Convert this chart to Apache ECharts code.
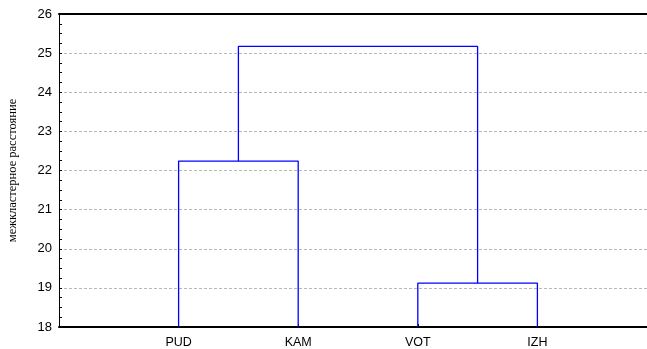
<!DOCTYPE html>
<html>
<head>
<meta charset="utf-8">
<script src="https://cdn.jsdelivr.net/npm/echarts@6/dist/echarts.min.js"></script>
<style>
  html, body { margin: 0; padding: 0; background: #fff; }
  #chart { width: 647px; height: 349px; }
</style>
</head>
<body>
<div id="chart"></div>
<script>
// Leaf objects along the horizontal axis (positions 1..4)
const leaves = ['PUD', 'KAM', 'VOT', 'IZH'];
// Agglomeration steps: which clusters join and at what distance
// Cluster ids: 0..3 are leaves, 4.. are merged clusters in order
const mergePairs = [[0, 1], [2, 3], [4, 5]];
const mergeHeights = [22.24, 19.12, 25.17];
// Vertical axis range and tick step
const yMin = 18, yMax = 26, yStep = 1;
const yTitle = 'межкластерное расстояние';

// Build the U-shaped links of the tree from the merge table
const nodeX = leaves.map((_, i) => i + 1);
const nodeY = leaves.map(() => yMin);
const links = [];
mergePairs.forEach(([a, b], k) => {
  const h = mergeHeights[k];
  links.push([[nodeX[a], nodeY[a]], [nodeX[a], h], [nodeX[b], h], [nodeX[b], nodeY[b]]]);
  nodeX.push((nodeX[a] + nodeX[b]) / 2);
  nodeY.push(h);
});

const chart = echarts.init(document.getElementById('chart'));
const font = 'Liberation Sans, Arial, sans-serif';
chart.setOption({
  animation: false,
  grid: { left: 59, top: 14, width: 598, height: 313, containLabel: false, outerBoundsMode: 'none' },
  xAxis: [{
    type: 'value', min: 0, max: leaves.length + 1, interval: 1,
    axisLine: { show: true, lineStyle: { color: '#000', width: 2 } },
    axisTick: { show: true, inside: true, length: 3, lineStyle: { color: '#000' } },
    axisLabel: {
      margin: 9, color: '#000', fontFamily: font, fontSize: 12.5,
      formatter: v => leaves[v - 1] || ''
    },
    splitLine: { show: false }
  }, {
    type: 'value', min: 0, max: leaves.length + 1, position: 'top',
    axisLine: { show: true, onZero: false, lineStyle: { color: '#000', width: 2 } },
    axisTick: { show: false }, axisLabel: { show: false }, splitLine: { show: false }
  }],
  yAxis: {
    type: 'value', min: yMin, max: yMax, interval: yStep,
    name: yTitle, nameLocation: 'middle', nameGap: 40,
    nameTextStyle: { fontFamily: 'Liberation Serif, Times New Roman, serif', fontSize: 12.5, color: '#000' },
    axisLine: { show: true, lineStyle: { color: '#000', width: 1 } },
    axisTick: { show: true, inside: true, length: 3, lineStyle: { color: '#000' } },
    minorTick: { show: true, splitNumber: 4, length: 3, lineStyle: { color: '#000' } },
    axisLabel: { margin: 7, color: '#000', fontFamily: font, fontSize: 13 },
    splitLine: { show: true, lineStyle: { color: '#b8b8b8', type: [3, 2], width: 1 } }
  },
  series: links.map(pts => ({
    type: 'line', data: pts, symbol: 'none', silent: true,
    lineStyle: { color: '#0000ff', width: 1.3 }
  }))
});
</script>
</body>
</html>
